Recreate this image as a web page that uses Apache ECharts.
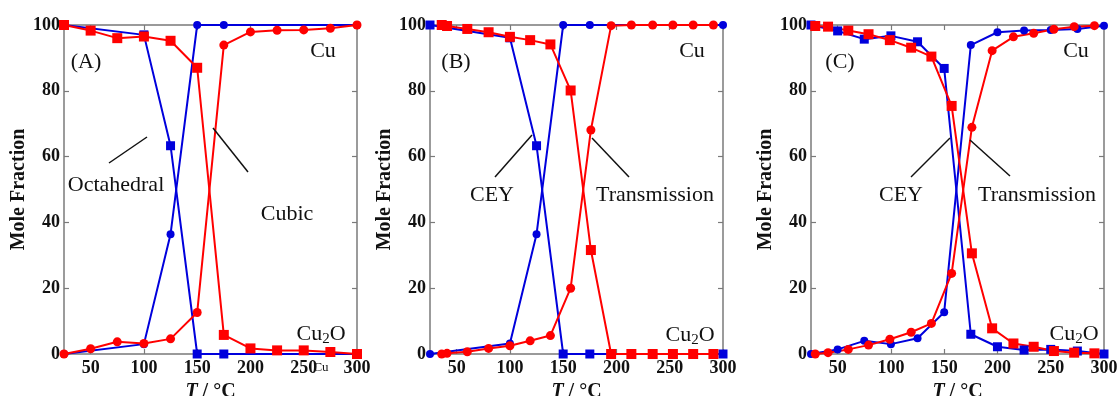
<!DOCTYPE html>
<html>
<head>
<meta charset="utf-8">
<script src="https://cdn.jsdelivr.net/npm/echarts@6/dist/echarts.min.js"></script>
<style>html,body{margin:0;padding:0;background:#fff}#main{width:1120px;height:396px}</style>
</head>
<body>
<div id="main"></div>
<script>
// (A) octahedral (blue) vs cubic (red)
var tOctA = [25, 100, 125, 150, 175, 300];
var octCu2OA = [100, 97, 63.3, 0, 0, 0];
var octCuA = [0, 3, 36.4, 100, 100, 100];
var tCubA = [25, 50, 75, 100, 125, 150, 175, 200, 225, 250, 275, 300];
var cubCu2OA = [100, 98.3, 96, 96.5, 95.2, 87, 5.8, 1.7, 1.1, 1.1, 0.6, 0];
var cubCuA = [0, 1.6, 3.7, 3.2, 4.6, 12.6, 93.9, 97.9, 98.4, 98.5, 99, 100];

// (B) CEY (blue) vs transmission (red)
var tCeyB = [25, 100, 125, 150, 175, 300];
var ceyCu2OB = [100, 96.1, 63.3, 0, 0, 0];
var ceyCuB = [0, 3.2, 36.4, 100, 100, 100];
var tTransB = [36, 41, 60, 80, 100, 119, 138, 157, 176, 195, 214, 234, 253, 272, 291];
var transCu2OB = [100, 99.7, 98.8, 97.8, 96.4, 95.4, 94.1, 80.1, 31.6, 0, 0, 0, 0, 0, 0];
var transCuB = [0, 0.2, 0.7, 1.7, 2.5, 4.0, 5.6, 20, 68.1, 99.8, 100, 100, 100, 100, 100];

// (C) CEY (blue) vs transmission (red)
var tCeyC = [25, 50, 75, 100, 125, 150, 175, 200, 225, 250, 275, 300];
var ceyCu2OC = [100, 98.2, 95.7, 96.7, 94.9, 86.8, 6.0, 2.2, 1.2, 1.4, 0.9, 0];
var ceyCuC = [0, 1.4, 4.0, 3.0, 4.8, 12.7, 93.9, 97.8, 98.3, 98.5, 98.8, 99.8];
var tTransC = [29, 41, 60, 79, 99, 119, 138, 157, 176, 195, 215, 234, 253, 272, 291];
var transCu2OC = [99.7, 99.5, 98.3, 97.2, 95.4, 93.1, 90.4, 75.4, 30.6, 7.8, 3.2, 2.2, 0.9, 0.4, 0.2];
var transCuC = [0, 0.4, 1.4, 2.7, 4.5, 6.6, 9.3, 24.5, 68.9, 92.2, 96.4, 97.5, 98.7, 99.5, 99.8];

var xTicks = [50, 100, 150, 200, 250, 300];
var yTicks = [0, 20, 40, 60, 80, 100];

var chart = echarts.init(document.getElementById("main"));
var BLUE = "#0000dc", RED = "#ff0000", GRAY = "#7a7a7a";
var serif = '"Liberation Serif", "DejaVu Serif", serif';

function pairs(t, v) {
    return t.map(function (x, i) { return [x, v[i]]; });
}

var panels = [
    { left: 64, blue: [tOctA, octCu2OA, octCuA], red: [tCubA, cubCu2OA, cubCuA] },
    { left: 430, blue: [tCeyB, ceyCu2OB, ceyCuB], red: [tTransB, transCu2OB, transCuB] },
    { left: 811, blue: [tCeyC, ceyCu2OC, ceyCuC], red: [tTransC, transCu2OC, transCuC] },
];

var grids = [], xAxes = [], yAxes = [], series = [];

panels.forEach(function (p, i) {
    grids.push({ left: p.left, top: 25, width: 293, height: 329, outerBoundsMode: "none" });
    var line = { lineStyle: { color: GRAY, width: 1.5 }, onZero: false };
    var tick = { inside: true, length: 5, lineStyle: { color: GRAY, width: 1.2 } };
    xAxes.push({
        type: "value", gridIndex: i, min: 25, max: 300, position: "bottom",
        axisLine: line,
        axisTick: Object.assign({ customValues: xTicks }, tick),
        axisLabel: { customValues: xTicks, margin: 5, color: "#111", fontFamily: serif, fontWeight: "bold", fontSize: 18 },
        splitLine: { show: false },
        name: "{i|T} / °C", nameLocation: "middle", nameGap: 24,
        nameTextStyle: {
            color: "#111", fontFamily: serif, fontWeight: "bold", fontSize: 20,
            rich: { i: { fontStyle: "italic", fontWeight: "bold", fontFamily: serif, fontSize: 20, color: "#111" } },
        },
    });
    xAxes.push({
        type: "value", gridIndex: i, min: 25, max: 300, position: "top",
        axisLine: line,
        axisTick: Object.assign({ customValues: xTicks }, tick),
        axisLabel: { show: false }, splitLine: { show: false },
    });
    yAxes.push({
        type: "value", gridIndex: i, min: 0, max: 100, position: "left",
        axisLine: line,
        axisTick: Object.assign({ customValues: yTicks }, tick),
        axisLabel: { customValues: yTicks, margin: 4, color: "#111", fontFamily: serif, fontWeight: "bold", fontSize: 18 },
        splitLine: { show: false },
        name: "Mole Fraction", nameLocation: "middle", nameGap: 35,
        nameTextStyle: { color: "#111", fontFamily: serif, fontWeight: "bold", fontSize: 20 },
    });
    yAxes.push({
        type: "value", gridIndex: i, min: 0, max: 100, position: "right",
        axisLine: line,
        axisTick: Object.assign({ customValues: yTicks }, tick),
        axisLabel: { show: false }, splitLine: { show: false },
    });

    function add(t, v, color, symbol, size) {
        series.push({
            type: "line", xAxisIndex: 2 * i, yAxisIndex: 2 * i,
            data: pairs(t, v), symbol: symbol, symbolSize: size,
            itemStyle: { color: color }, lineStyle: { color: color, width: 2 },
            animation: false,
        });
    }
    add(p.blue[0], p.blue[1], BLUE, "rect", 9);
    add(p.blue[0], p.blue[2], BLUE, "circle", 8);
    add(p.red[0], p.red[1], RED, "rect", 10);
    add(p.red[0], p.red[2], RED, "circle", 9);
});

function txt(x, y, s, size) {
    return {
        type: "text", x: x, y: y, z: 100,
        style: {
            text: s, fill: "#111", fontFamily: serif, fontSize: size || 22,
            align: "center", verticalAlign: "middle",
            rich: {
                n: { fontFamily: serif, fontSize: 22, fill: "#111" },
                s: { fontFamily: serif, fontSize: 15, fill: "#111", padding: [10, 0, 0, 0] },
            },
        },
    };
}
function seg(x1, y1, x2, y2) {
    return { type: "line", z: 100, shape: { x1: x1, y1: y1, x2: x2, y2: y2 }, style: { stroke: "#111", lineWidth: 1.5 } };
}
var cu2o = "{n|Cu}{s|2}{n|O}";

var graphic = [
    txt(86, 62, "(A)"), txt(323, 51, "Cu"), txt(116, 185, "Octahedral"), txt(287, 214, "Cubic"),
    txt(321, 334, cu2o), txt(321, 368, "Cu", 13),
    seg(109, 163, 147, 137), seg(213, 128, 248, 172),
    txt(456, 62, "(B)"), txt(692, 51, "Cu"), txt(492, 195, "CEY"), txt(655, 195, "Transmission"),
    txt(690, 335, cu2o),
    seg(495, 177, 532, 135), seg(592, 138, 629, 177),
    txt(840, 62, "(C)"), txt(1076, 51, "Cu"), txt(901, 195, "CEY"), txt(1037, 195, "Transmission"),
    txt(1074, 334, cu2o),
    seg(911, 177, 950, 138), seg(970, 140, 1010, 176),
];

var option = {
    backgroundColor: "#fff",
    animation: false,
    grid: grids,
    xAxis: xAxes,
    yAxis: yAxes,
    series: series,
    graphic: graphic,
};
chart.setOption(option);
</script>
</body>
</html>
